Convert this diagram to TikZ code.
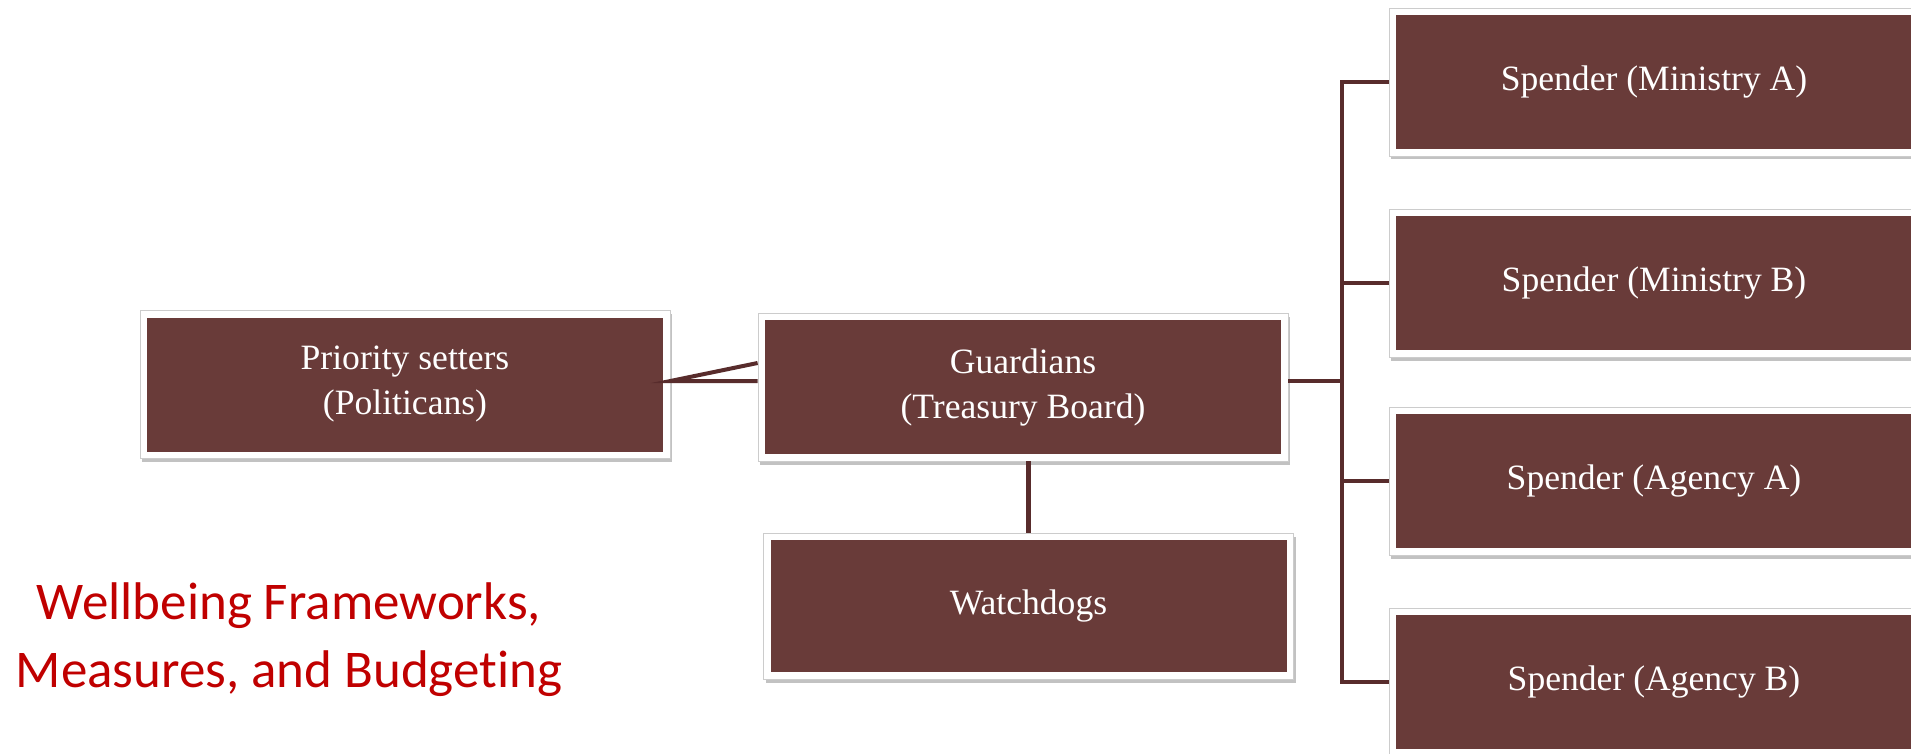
\documentclass[tikz,border=0pt]{standalone}
\usepackage{fontspec}
\setmainfont{Liberation Serif}
\newfontfamily\titlefont[Ligatures=NoCommon]{Carlito}
\usetikzlibrary{shadows}
\definecolor{boxfill}{RGB}{105,59,57}
\definecolor{linkcol}{RGB}{88,44,44}
\definecolor{titlered}{RGB}{192,0,0}
\begin{document}
\begin{tikzpicture}[x=1pt,y=-1pt,
  rolebox/.style={rectangle, minimum width=530pt, minimum height=148pt, inner sep=0pt,
    fill=white, draw=black!20, line width=0.8pt,
    drop shadow={shadow xshift=2pt, shadow yshift=-3.5pt, opacity=0.4, fill=black!60},
    path picture={\fill[boxfill] ([shift={(7pt,-7pt)}]path picture bounding box.north west)
      rectangle ([shift={(-7pt,7pt)}]path picture bounding box.south east);},
    text=white, font=\fontsize{35.6}{45}\selectfont, align=center},
  link/.style={draw=linkcol, line width=4.6pt, line join=miter}]
\useasboundingbox (0,0) rectangle (1911,754);

% role boxes
\node[rolebox] (prio) at (405,384.5) {Priority setters\\(Politicans)};
\node[rolebox] (guard) at (1023,387) {Guardians\\(Treasury Board)};
\node[rolebox, minimum height=146pt] (watch) at (1028.5,606) {Watchdogs};
\node[rolebox] (minA) at (1654,82) {Spender (Ministry A)};
\node[rolebox] (minB) at (1654,283) {Spender (Ministry B)};
\node[rolebox] (agA) at (1654,481) {Spender (Agency A)};
\node[rolebox] (agB) at (1654,682) {Spender (Agency B)};

% helper points for the connectors
\coordinate (bus) at (1342,0);
\coordinate (leftY) at (0,381);
\coordinate (slantY) at (0,363);

% priority setters to guardians
\draw[link, line width=4pt] (guard.west |- slantY) -- (prio.east |- leftY) -- (guard.west |- leftY);
% guardians to watchdogs
\draw[link] (guard.south -| watch.north) -- (watch.north);
% guardians to the spenders
\draw[link] (guard.east |- leftY) -- (bus |- leftY);
\draw[link] (minA.west) -- (bus |- minA.west) -- (bus |- agB.west) -- (agB.west);
\draw[link] (bus |- minB.west) -- (minB.west);
\draw[link] (bus |- agA.west) -- (agA.west);

% title
\node[font=\titlefont\fontsize{53}{68}\selectfont, text=titlered, align=center] (title)
  at (289,640) {Wellbeing Frameworks,\\Measures, and Budgeting};
\end{tikzpicture}
\end{document}
